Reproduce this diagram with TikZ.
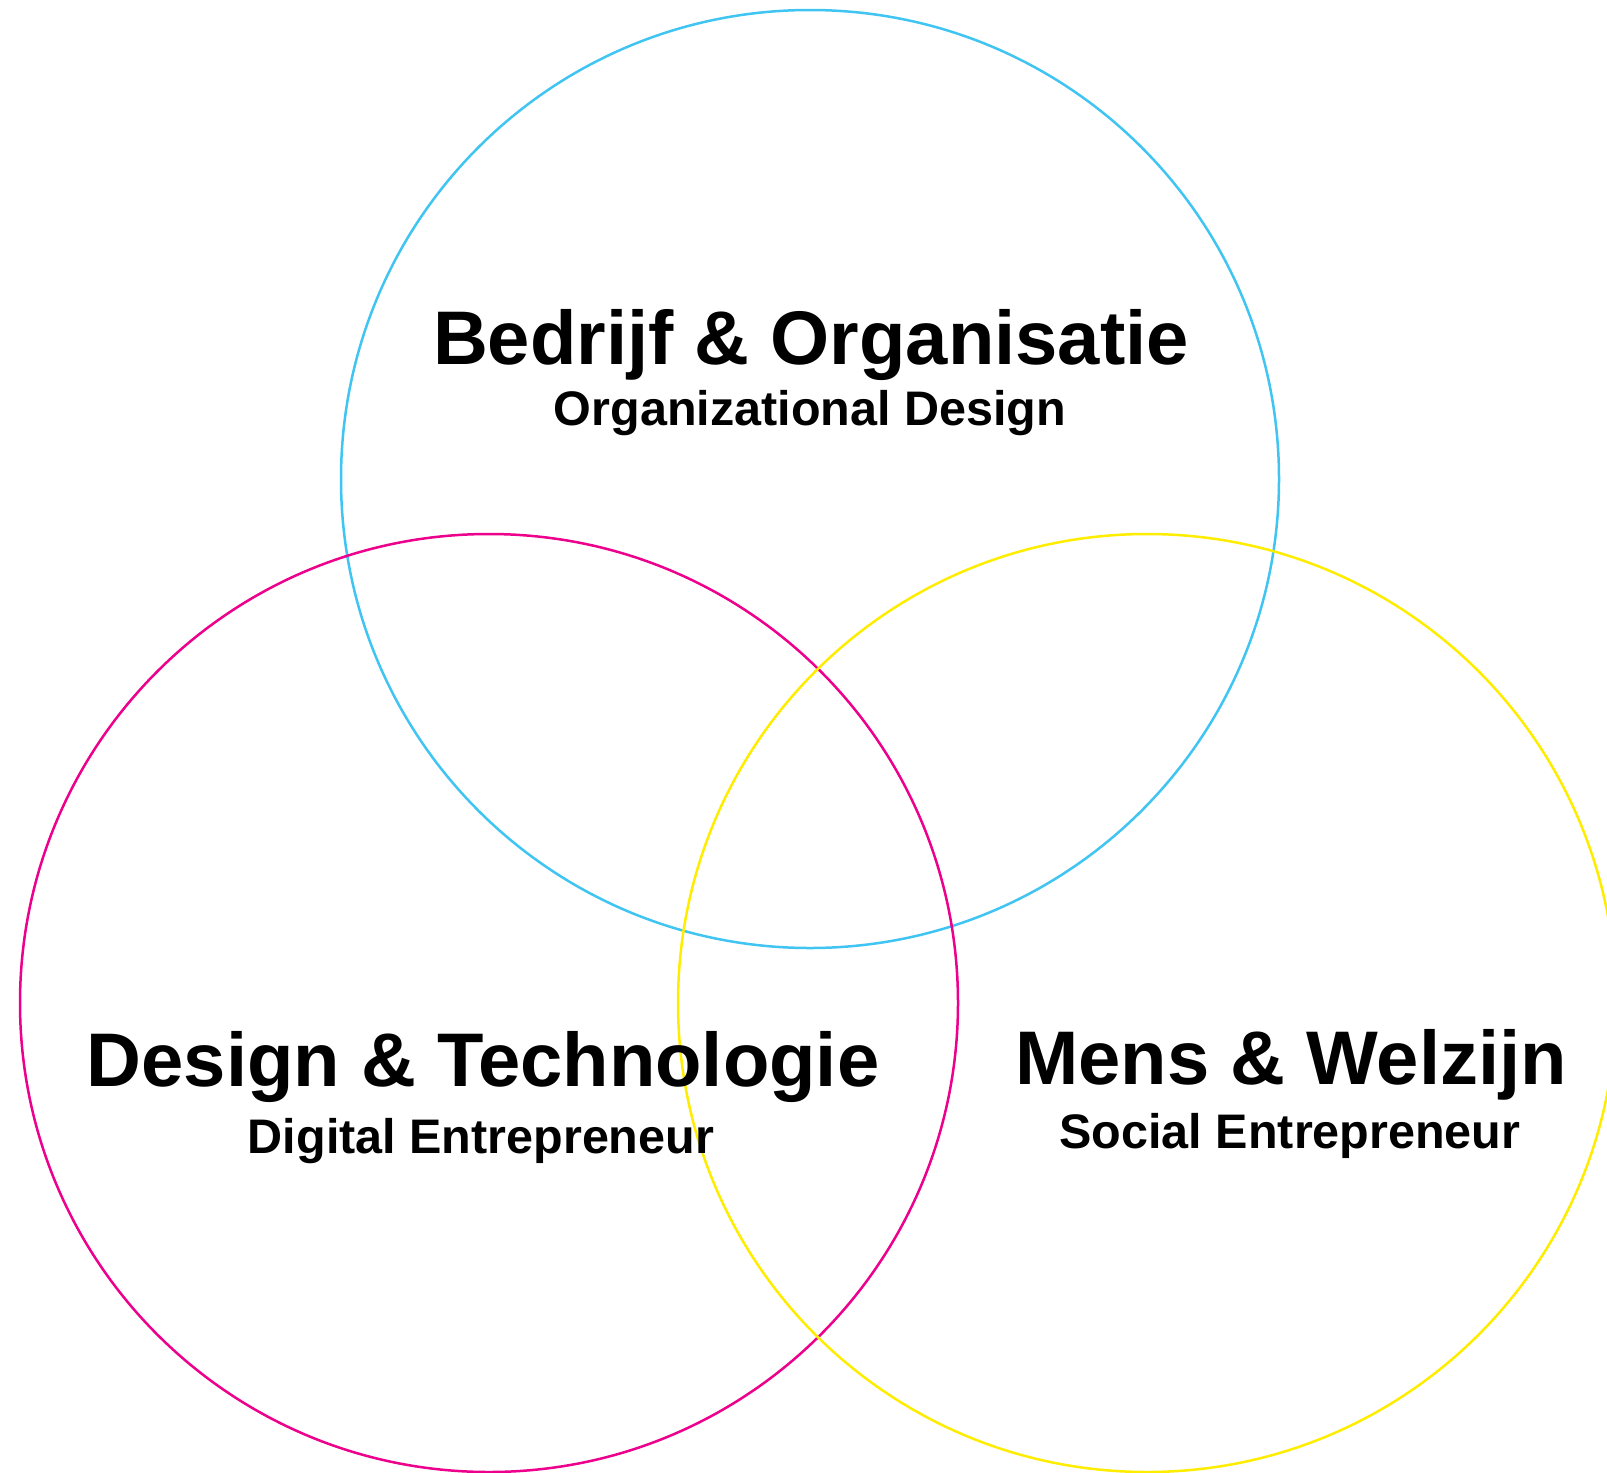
\documentclass[tikz,border=0pt]{standalone}
\usepackage{fontspec}
\setmainfont{Liberation Sans}
\definecolor{bocyan}{HTML}{40C4F2}
\definecolor{dtpink}{HTML}{EC008C}
\definecolor{mwyellow}{HTML}{FFED00}

\begin{document}
\begin{tikzpicture}[x=1pt,y=-1pt,
    ring/.style={line width=2.5pt},
    ttl/.style={anchor=base,inner sep=0pt,font=\fontsize{76}{80}\selectfont\bfseries},
    subttl/.style={anchor=base,inner sep=0pt,font=\fontsize{48.5}{52}\selectfont\bfseries}]
         \useasboundingbox (0,0) rectangle (1607,1473);
         \draw [ring,bocyan] (810,479) circle (469pt);
         \draw [ring,dtpink] (489,1003) circle (469pt);
         \draw [ring,mwyellow] (1147,1003) circle (469pt);
         \node [ttl] (BO) at (811,364) {Bedrijf \& Organisatie};
         \node [subttl] (BOs) at (810,425) {Organizational Design};
         \node [ttl] (DT) at (483,1086) {Design \& Technologie};
         \node [subttl] (DTs) at (481,1153) {Digital Entrepreneur};
         \node [ttl] (MW) at (1291,1084) {Mens \& Welzijn};
         \node [subttl] (MWs) at (1290,1148) {Social Entrepreneur};
\end{tikzpicture}
\end{document}
